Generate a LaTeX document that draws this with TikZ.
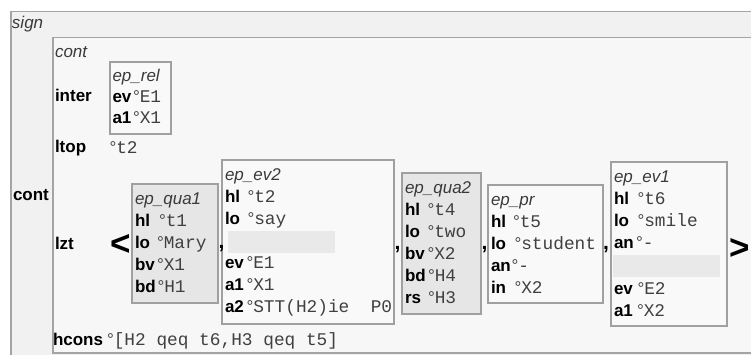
\documentclass[tikz,border=0pt]{standalone}
\usepackage{fontspec}
\setmainfont{Liberation Sans}
\newfontfamily\monof{Liberation Mono}
\definecolor{outerbg}{HTML}{F1F1F1}
\definecolor{innerbg}{HTML}{F7F7F7}
\definecolor{framecol}{HTML}{A4A4A4}
\definecolor{boxcol}{HTML}{A0A0A0}
\definecolor{boxfill}{HTML}{F9F9F9}
\definecolor{grayfill}{HTML}{E6E6E6}
\definecolor{bandcol}{HTML}{E9E9E9}
\definecolor{typcol}{HTML}{3A3A3A}
\definecolor{valcol}{HTML}{404040}
\newcommand\mv[1]{°{\monof\fontsize{17.8}{20}\selectfont #1}}
\begin{document}
\begin{tikzpicture}[x=1pt,y=-1pt,
  txt/.style={anchor=base west,inner sep=0pt,outer sep=0pt,font=\fontsize{17}{20}\selectfont},
  feat/.style={txt,font=\fontsize{17}{20}\selectfont\bfseries},
  typ/.style={txt,font=\fontsize{17}{20}\selectfont\itshape,text=typcol},
  val/.style={txt,text=valcol},
  avm/.style={draw=boxcol,line width=1.6pt,fill=boxfill,anchor=north west,inner sep=0pt,outer sep=0pt},
  grayavm/.style={avm,fill=grayfill},
  band/.style={fill=bandcol,anchor=north west,inner sep=0pt,outer sep=0pt,minimum width=107pt,minimum height=22pt},
  brack/.style={anchor=base west,inner sep=0pt,font=\fontsize{35}{35}\selectfont\bfseries},
  sep/.style={anchor=base west,inner sep=0pt,outer sep=0pt,font=\fontsize{21}{21}\selectfont\bfseries}]
\useasboundingbox (0,0) rectangle (751,354);
\fill[white] (0,0) rectangle (751,354);
% frames
\node[draw=framecol,line width=1.5pt,fill=outerbg,anchor=north west,inner sep=0pt,minimum width=760pt,minimum height=370pt] (signframe) at (10,10.5) {};
\node[draw=framecol,line width=1.5pt,fill=innerbg,anchor=north west,inner sep=0pt,minimum width=720pt,minimum height=315.5pt] (contframe) at (52,36.5) {};
\node[typ] (sign) at (12,28) {sign};
\node[typ] (conttype) at (55,57) {cont};
\node[feat] (contfeat) at (13,200) {cont};
% inter
\node[feat] (inter) at (55,101) {inter};
\node[avm,minimum width=61pt,minimum height=72pt] (relbox) at (110,62) {};
\node[typ] (relt) at (112.5,81) {ep\_rel};
\node[feat] (relf1) at (112.5,102) {ev};
\node[val] (relv1) at (133,102) {\mv{E1}};
\node[feat] (relf2) at (112.5,123) {a1};
\node[val] (relv2) at (133,123) {\mv{X1}};
% ltop
\node[feat] (ltop) at (55,152) {ltop};
\node[val] (ltopv) at (109.5,153) {\mv{t2}};
% lzt
\node[feat] (lzt) at (55,249) {lzt};
\node[brack] (lt) at (110,255) {<};
% ep_qua1
\node[grayavm,minimum width=86pt,minimum height=119pt] (qua1box) at (132,184) {};
\node[typ] (qua1t) at (135,204) {ep\_qua1};
\node[feat] (qua1f1) at (135,226) {hl};
\node[val] (qua1v1) at (159,226) {\mv{t1}};
\node[feat] (qua1f2) at (135,248) {lo};
\node[val] (qua1v2) at (157,248) {\mv{Mary}};
\node[feat] (qua1f3) at (135,270) {bv};
\node[val] (qua1v3) at (157,270) {\mv{X1}};
\node[feat] (qua1f4) at (135,292) {bd};
\node[val] (qua1v4) at (157.5,292) {\mv{H1}};
% ep_ev2
\node[avm,minimum width=172pt,minimum height=164pt] (ev2box) at (222,160) {};
\node[band] (ev2band) at (228,231) {};
\node[typ] (ev2t) at (225,180) {ep\_ev2};
\node[feat] (ev2f1) at (225,202) {hl};
\node[val] (ev2v1) at (247.5,202) {\mv{t2}};
\node[feat] (ev2f2) at (225,224) {lo};
\node[val] (ev2v2) at (247.5,224) {\mv{say}};
\node[feat] (ev2f3) at (225,268) {ev};
\node[val] (ev2v3) at (246.5,268) {\mv{E1}};
\node[feat] (ev2f4) at (225,290) {a1};
\node[val] (ev2v4) at (246.5,290) {\mv{X1}};
\node[feat] (ev2f5) at (225,312) {a2};
\node[val] (ev2v5) at (246.5,312) {\mv{STT(H2)ie\ \ P0}};
% ep_qua2
\node[grayavm,minimum width=79pt,minimum height=141pt] (qua2box) at (402,173) {};
\node[typ] (qua2t) at (405,193) {ep\_qua2};
\node[feat] (qua2f1) at (405,215) {hl};
\node[val] (qua2v1) at (427.5,215) {\mv{t4}};
\node[feat] (qua2f2) at (405,237) {lo};
\node[val] (qua2v2) at (427.5,237) {\mv{two}};
\node[feat] (qua2f3) at (405,259) {bv};
\node[val] (qua2v3) at (427.5,259) {\mv{X2}};
\node[feat] (qua2f4) at (405,281) {bd};
\node[val] (qua2v4) at (428,281) {\mv{H4}};
\node[feat] (qua2f5) at (405,303) {rs};
\node[val] (qua2v5) at (428,303) {\mv{H3}};
% ep_pr
\node[avm,minimum width=115pt,minimum height=118pt] (prbox) at (488,185) {};
\node[typ] (prt) at (491,205) {ep\_pr};
\node[feat] (prf1) at (491,227) {hl};
\node[val] (prv1) at (513,227) {\mv{t5}};
\node[feat] (prf2) at (491,249) {lo};
\node[val] (prv2) at (514.5,249) {\mv{student}};
\node[feat] (prf3) at (491,271) {an};
\node[val] (prv3) at (511.5,271) {\mv{-}};
\node[feat] (prf4) at (491,293) {in};
\node[val] (prv4) at (514.5,293) {\mv{X2}};
% ep_ev1
\node[avm,minimum width=116pt,minimum height=164pt] (ev1box) at (611,162) {};
\node[band] (ev1band) at (613,255) {};
\node[typ] (ev1t) at (614,182) {ep\_ev1};
\node[feat] (ev1f1) at (614,204) {hl};
\node[val] (ev1v1) at (637.5,204) {\mv{t6}};
\node[feat] (ev1f2) at (614,226) {lo};
\node[val] (ev1v2) at (637.5,226) {\mv{smile}};
\node[feat] (ev1f3) at (614,248) {an};
\node[val] (ev1v3) at (636,248) {\mv{-}};
\node[feat] (ev1f4) at (614,294) {ev};
\node[val] (ev1v4) at (637.5,294) {\mv{E2}};
\node[feat] (ev1f5) at (614,316) {a1};
\node[val] (ev1v5) at (637,316) {\mv{X2}};
\node[brack] (gt) at (729,259) {>};
% separators (drawn last, on top of box borders)
\node[sep] (c1) at (218.5,248) {,};
\node[sep] (c2) at (394.5,249) {,};
\node[sep] (c3) at (481.5,249) {,};
\node[sep] (c4) at (603,249) {,};
% hcons
\node[feat] (hcons) at (53,345) {hcons};
\node[val] (hconsv) at (107,345) {\mv{[H2 qeq t6,H3 qeq t5]}};
\end{tikzpicture}
\end{document}
